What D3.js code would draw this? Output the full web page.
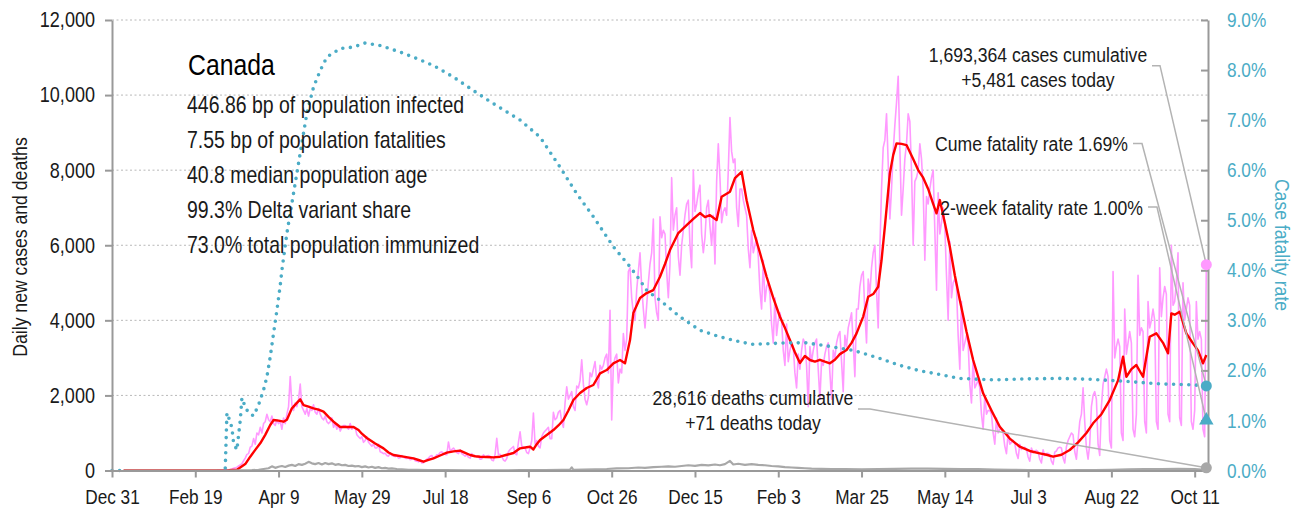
<!DOCTYPE html>
<html>
<head>
<meta charset="utf-8">
<script src="https://cdn.jsdelivr.net/npm/d3@7"></script>
<style>
  body { margin: 0; background: #fff; }
  svg { display: block; font-family: "Liberation Sans", Arial, sans-serif; }
</style>
</head>
<body>
<svg id="chart" width="1303" height="512"></svg>
<script>
// ---- data -------------------------------------------------------------
// Day 0 is 2019-12-31; every series is indexed by days since then.
const startDate = new Date(Date.UTC(2019, 11, 31));
const lastAxisDay = 658;
const xTickDays = [0, 50, 100, 150, 200, 250, 300, 350, 400, 450, 500, 550, 600, 650];
const leftTicks = [0, 2000, 4000, 6000, 8000, 10000, 12000];
const rightTicks = [0, 1, 2, 3, 4, 5, 6, 7, 8, 9];

// Daily new cases, one row per week (Tue..Mon), starting on day 63
const caseFirstDay = 63;
const dailyCases = [
  3,4,6,8,10,15,25,
  15,25,40,60,70,90,120,
  150,180,260,330,430,450,620,
  650,850,700,1000,950,1150,1000,
  1250,1300,1500,1350,1300,1450,1250,
  1200,1350,1250,1300,1100,1400,1250,
  1500,1700,2500,1750,1600,1800,1700,
  1900,2300,1700,1600,1500,1650,1450,
  1650,1600,1750,1550,1500,1650,1500,
  1400,1350,1450,1300,1250,1300,1400,
  1150,1250,1100,1200,1050,1150,1200,
  1200,1150,1100,1250,1100,1150,1150,
  950,900,850,900,750,800,900,
  750,700,650,700,600,600,700,
  500,480,450,460,400,380,470,
  400,390,370,410,330,340,400,
  350,330,320,340,290,300,340,
  260,250,230,270,200,210,250,
  300,330,380,400,320,350,420,
  420,480,500,450,430,420,760,
  520,560,600,540,480,450,550,
  450,420,380,420,350,330,450,
  380,400,360,380,300,310,420,
  350,380,400,380,280,260,430,
  860,420,430,380,280,250,320,
  500,560,600,640,450,420,750,
  1030,650,620,600,480,450,600,
  800,1530,700,800,650,600,900,
  1000,1050,1100,1150,850,850,1550,
  1350,1400,1550,1600,1300,1150,1800,
  2230,1900,2000,2100,1700,1600,2250,
  2200,2400,2950,2300,1900,1750,1950,
  2600,2500,2700,2900,2400,2200,2800,
  2700,2800,3000,3100,2600,4270,1345,
  2800,3000,3100,2330,2700,2600,3650,
  3200,3500,5300,5400,4600,4200,4000,
  4800,5300,5800,4900,4300,3800,4400,
  5000,5500,5800,6700,4600,4200,4000,
  6760,6200,6400,6300,5300,4600,5500,
  7800,6400,6800,7000,5700,5200,6000,
  6400,6800,7100,7200,6000,5400,8000,
  6900,7100,7400,7600,6300,5800,6200,
  7000,7200,6500,6000,6800,5500,7700,
  8700,7800,6600,6900,7000,6800,8000,
  9400,8500,8200,8300,7000,6500,7500,
  7500,7200,7000,6800,5900,5400,6400,
  5800,6000,6200,5700,4800,4300,5600,
  4500,4900,5000,4700,3900,3400,4600,
  3600,4000,4200,4000,3200,2800,3900,
  2900,3200,3400,3300,2600,2200,3100,
  2700,3200,3500,3400,2800,1700,3300,
  2900,3200,3400,3500,2700,1900,2900,
  2800,3100,3300,3400,2600,1900,3200,
  3000,3400,3600,3700,2900,2100,3600,
  3300,3800,4000,4200,3400,2500,4300,
  4300,4900,5200,5300,4200,3400,5100,
  4700,5400,5800,6000,4800,3800,5900,
  7500,8600,8800,9500,8200,6700,7500,
  8500,9200,9800,10500,8600,6800,7500,
  8300,8700,9500,9300,8000,6000,7700,
  7800,8000,8700,8300,7500,5600,7300,
  7100,7500,7800,8000,6400,4800,7400,
  6300,6600,7000,6500,5200,4000,6100,
  4600,5000,5100,4900,3600,2700,4500,
  3200,3400,3600,3400,2300,1800,3000,
  2200,2300,2400,2200,1500,1100,2000,
  1500,1600,1600,1500,1000,700,1400,
  1000,1100,1100,1000,650,450,1000,
  700,750,800,720,450,320,700,
  560,600,620,580,360,250,600,
  470,520,540,500,300,200,550,
  400,450,460,420,250,160,490,
  520,600,620,600,330,200,630,
  800,900,1000,950,500,300,800,
  1300,1500,2200,1300,600,300,700,
  1700,2000,2100,1900,700,400,1700,
  2300,2500,2700,2500,800,600,5300,
  3000,3300,3500,3300,1000,800,4300,
  3100,3400,3700,3400,1100,900,1500,
  5200,3600,3800,3700,1300,1000,4500,
  3800,4000,4300,4000,1300,1100,5400,
  4100,4600,4900,4700,1500,1300,6000,
  4400,4500,5000,5800,1400,1200,5000,
  4000,4300,4600,4400,1300,1100,1600,
  4500,3500,3700,3500,1100,900,5481
];

// 7-day average of new cases
const avgDays = [7,60,70,75,80,83,86,89,92,95,97,100,103,105,108,111,113,115,118,121,124,127,130,133,137,141,145,148,150,153,158,163,166,169,175,181,184,187,190,193,197,201,205,209,212,215,218,221,225,229,233,237,241,245,249,251,253,255,257,261,265,268,271,274,277,281,285,289,293,297,301,305,308,311,313,317,321,325,329,332,335,340,345,349,353,356,359,363,366,371,374,378,381,385,389,393,397,401,404,407,410,413,416,419,422,425,428,431,434,437,441,444,447,451,454,457,460,462,464,467,469,471,474,477,481,484,487,490,493,495,497,500,503,506,509,513,517,520,523,528,533,539,545,551,557,561,565,570,575,580,585,589,594,599,604,607,609,612,615,619,623,627,631,634,636,638,641,645,649,652,655,657];
const avgCases = [0,0,5,20,170,368,550,724,950,1212,1345,1330,1300,1350,1656,1800,1896,1744,1700,1656,1620,1566,1430,1300,1160,1160,1160,1078,980,866,720,590,480,413,370,324,280,235,280,324,400,475,510,528,470,413,380,368,360,350,368,420,466,590,620,634,560,700,812,945,1078,1200,1345,1600,1877,2064,2197,2277,2588,2676,2855,2943,2855,3475,4194,4593,4726,4807,5161,5500,5872,6325,6537,6700,6858,6750,6800,6670,7291,7425,7790,7957,7200,6405,5800,5161,4600,4096,3800,3475,3150,2862,3050,2943,2900,2950,2900,2855,2950,3100,3209,3400,3654,4100,4628,4700,4895,5600,6493,7913,8400,8713,8700,8668,8300,8002,7800,7500,7100,6849,7203,6600,5960,5200,4540,3700,2943,2500,2056,1600,1167,850,634,520,458,420,368,420,546,750,1000,1257,1500,1877,2400,3030,2498,2700,2809,2498,3563,3654,3400,3121,4186,4150,4229,3654,3387,3200,2855,3076];

// Daily deaths
const deathDays = [7,70,78,84,88,91,94,96,98,100,102,104,106,108,110,112,114,116,118,120,122,124,126,128,130,132,134,136,138,140,142,144,146,148,150,152,154,156,158,160,162,164,166,168,171,174,178,183,190,200,215,230,245,260,270,275,276,277,283,290,297,303,310,316,320,325,330,334,338,342,346,350,354,358,362,365,368,371,373,376,380,384,388,392,396,400,404,408,412,416,420,426,432,440,450,460,470,480,490,500,510,520,530,540,550,560,570,580,590,600,610,620,630,640,650,656,657];
const deathValues = [0,0,2,8,20,40,60,110,70,100,120,95,130,150,120,170,150,180,230,190,170,200,160,200,170,190,150,170,140,150,120,130,110,120,90,110,80,100,70,90,60,70,50,55,40,30,20,15,10,8,6,5,8,12,18,25,85,20,25,30,40,55,60,80,70,90,100,110,100,120,140,125,150,135,160,140,170,255,160,180,150,170,150,140,120,110,90,80,70,60,50,45,40,35,30,35,45,50,50,45,40,35,25,20,12,8,6,8,12,20,30,35,40,45,35,20,71];

// Cumulative case fatality rate, percent (null = no value)
const cfrDays = [0,5,6,68,69,71,72,73,75,76,77,78,80,82,85,88,91,93,95,97,99,101,102,105,109,113,117,121,125,129,137,145,152,161,173,183,193,205,217,227,245,257,269,279,289,301,311,317,321,329,341,353,365,377,385,405,417,429,445,461,473,484,495,509,529,549,569,589,609,629,649,657];
const cfrValues = [0,0,null,0.05,1.15,0.97,0.85,0.55,0.41,0.71,1.0,1.45,1.27,1.15,1.09,1.31,1.61,1.87,2.27,2.74,3.2,3.7,4.0,4.74,5.54,6.34,7.14,7.66,7.99,8.26,8.43,8.46,8.54,8.49,8.36,8.23,8.09,7.86,7.59,7.37,7.0,6.66,6.06,5.53,5.07,4.47,4.07,3.8,3.6,3.4,3.07,2.8,2.67,2.57,2.52,2.55,2.55,2.49,2.4,2.24,2.1,2.0,1.93,1.84,1.81,1.83,1.84,1.82,1.78,1.73,1.71,1.69];

// Latest-day figures
const lastDay = 657;
const casesCumulative = 1693364;
const casesToday = 5481;
const deathsCumulative = 28616;
const deathsToday = 71;
const cumeFatalityRate = 1.69;
const twoWeekFatalityRate = 1.00;

const infoTitle = "Canada";
const infoLines = [
  "446.86 bp of population infected",
  "7.55 bp of population fatalities",
  "40.8 median population age",
  "99.3% Delta variant share",
  "73.0% total population immunized"
];

// ---- scales ----------------------------------------------------------
const day = d => d3.utcDay.offset(startDate, d);
const x = d3.scaleUtc().domain([day(0), day(lastAxisDay)]).range([112, 1208]);
const y = d3.scaleLinear().domain([0, 12000]).range([470.5, 20]);
const yR = d3.scaleLinear().domain([0, 9]).range([470.5, 20]);

const svg = d3.select("#chart");
const blue = "#4bacc6";
const axisGrey = "#999";
const textCol = "#1a1a1a";

// Horizontal squeeze giving the narrow, condensed lettering
const SQ = 0.84;
function condense(sel) {
  sel.each(function () {
    const t = d3.select(this);
    const fix = n => { const v = n.attr("x"); n.attr("x", v == null ? null : (+v) / SQ); };
    fix(t);
    t.selectAll("tspan").each(function () { fix(d3.select(this)); });
    const tr = t.attr("transform") || "";
    t.attr("transform", (tr + ` scale(${SQ},1)`).trim());
  });
}

// gridlines
svg.append("g").selectAll("line")
  .data(leftTicks.filter(t => t > 0))
  .join("line")
  .attr("x1", x.range()[0]).attr("x2", x.range()[1])
  .attr("y1", d => y(d)).attr("y2", d => y(d))
  .attr("stroke", "#b8b8b8").attr("stroke-width", 1)
  .attr("stroke-dasharray", "2,2.5");

// ---- series ----------------------------------------------------------
const pts = (days, vals) => days.map((d, i) => ({ d: day(d), v: vals[i] }));

const casePts = dailyCases.map((v, i) => ({ d: day(caseFirstDay + i), v }));
const lineL = d3.line().x(p => x(p.d)).y(p => y(p.v)).defined(p => p.v != null);
const lineR = d3.line().x(p => x(p.d)).y(p => yR(p.v)).defined(p => p.v != null);

svg.append("path").datum(casePts)
  .attr("d", lineL).attr("fill", "none")
  .attr("stroke", "#ff99ff").attr("stroke-width", 1.6).attr("stroke-linejoin", "round");

svg.append("path").datum(pts(avgDays, avgCases))
  .attr("d", lineL).attr("fill", "none")
  .attr("stroke", "#ff0000").attr("stroke-width", 2.4).attr("stroke-linejoin", "round");

svg.append("path").datum(pts(deathDays, deathValues))
  .attr("d", lineL).attr("fill", "none")
  .attr("stroke", "#a8a8a8").attr("stroke-width", 2.2).attr("stroke-linejoin", "round");

svg.append("path").datum(pts(cfrDays, cfrValues))
  .attr("d", lineR).attr("fill", "none")
  .attr("stroke", blue).attr("stroke-width", 3.6)
  .attr("stroke-linecap", "round").attr("stroke-dasharray", "0,7.6");

// ---- axes ------------------------------------------------------------
const styleAxis = (size) => g => {
  g.select(".domain").attr("stroke", axisGrey).attr("stroke-width", 2);
  g.selectAll(".tick line").attr("stroke", axisGrey).attr("stroke-width", 2);
  g.selectAll(".tick text").attr("font-size", size).attr("font-family", null);
};

svg.append("g")
  .attr("transform", `translate(${x.range()[0]},0)`)
  .call(d3.axisLeft(y).tickValues(leftTicks).tickFormat(d3.format(","))
    .tickSize(7).tickSizeOuter(0).tickPadding(10))
  .call(styleAxis(21.5))
  .call(g => g.selectAll(".tick text").attr("fill", textCol).call(condense));

svg.append("g")
  .attr("transform", `translate(${x.range()[1]},0)`)
  .call(d3.axisRight(yR).tickValues(rightTicks).tickFormat(d => d.toFixed(1) + "%")
    .tickSize(-7).tickSizeOuter(0).tickPadding(19))
  .call(styleAxis(20.5))
  .call(g => g.selectAll(".tick text").attr("fill", blue).call(condense));

svg.append("g")
  .attr("transform", `translate(0,${y(0)})`)
  .call(d3.axisBottom(x).tickValues(xTickDays.map(day)).tickFormat(d3.utcFormat("%b %-d"))
    .tickSize(7).tickSizeOuter(0).tickPadding(12))
  .call(styleAxis(20.5))
  .call(g => g.selectAll(".tick text").attr("fill", textCol).call(condense));

// axis titles
svg.append("text")
  .attr("transform", "translate(27,247) rotate(-90)")
  .attr("text-anchor", "middle").attr("font-size", 21).attr("fill", textCol)
  .text("Daily new cases and deaths").call(condense);

svg.append("text")
  .attr("transform", "translate(1275,245) rotate(90)")
  .attr("text-anchor", "middle").attr("font-size", 21).attr("fill", blue)
  .text("Case fatality rate").call(condense);

// ---- info block ------------------------------------------------------
svg.append("text")
  .attr("x", 188).attr("y", 75)
  .attr("font-size", 29.5).attr("fill", "#000")
  .text(infoTitle).call(condense);

svg.append("g").selectAll("text")
  .data(infoLines).join("text")
  .attr("x", 187).attr("y", (d, i) => 113 + i * 35.1)
  .attr("font-size", 23.2).attr("fill", textCol)
  .text(d => d).call(condense);

// ---- annotations -----------------------------------------------------
const xe = x(day(lastDay));
const leader = (pts) => svg.append("polyline")
  .attr("points", pts.map(p => p.join(",")).join(" "))
  .attr("fill", "none").attr("stroke", "#b3b3b3").attr("stroke-width", 1.5);

const annot = (lines, xPos, y0, anchor) => {
  const t = svg.append("text").attr("font-size", 21).attr("fill", textCol)
    .attr("text-anchor", anchor);
  lines.forEach((s, i) => t.append("tspan").attr("x", xPos).attr("y", y0 + i * 25.5).text(s));
  t.call(condense);
};
const fmt = d3.format(",");

annot([fmt(casesCumulative) + " cases cumulative", "+" + fmt(casesToday) + " cases today"], 1038, 62, "middle");
leader([[1152, 65.7], [1160, 65.7], [xe, y(casesToday)]]);

annot(["Cume fatality rate " + cumeFatalityRate.toFixed(2) + "%"], 1128, 151.5, "end");
leader([[1133, 143.5], [1142, 143.5], [xe, yR(cumeFatalityRate)]]);

annot(["2-week fatality rate " + twoWeekFatalityRate.toFixed(2) + "%"], 1143, 215, "end");
leader([[1148, 207], [1157, 207], [xe, yR(twoWeekFatalityRate)]]);

annot([fmt(deathsCumulative) + " deaths cumulative", "+" + deathsToday + " deaths today"], 753, 405, "middle");
leader([[858, 409], [870, 409], [xe, y(deathsToday)]]);

// end-of-series markers
svg.append("circle").attr("cx", xe).attr("cy", y(casesToday)).attr("r", 5.5).attr("fill", "#ff99ff");
svg.append("circle").attr("cx", xe).attr("cy", yR(cumeFatalityRate)).attr("r", 5.5).attr("fill", blue);
svg.append("path")
  .attr("d", d3.symbol(d3.symbolTriangle, 90)())
  .attr("transform", `translate(${xe},${yR(twoWeekFatalityRate)})`)
  .attr("fill", blue);
svg.append("circle").attr("cx", xe).attr("cy", y(deathsToday)).attr("r", 5.5).attr("fill", "#a8a8a8");
</script>
</body>
</html>
